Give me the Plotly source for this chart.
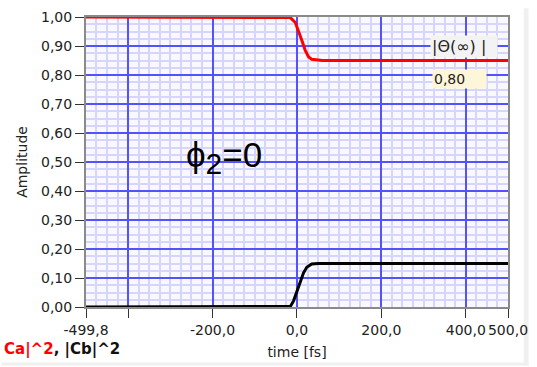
import plotly.graph_objects as go

# |Ca|^2 and |Cb|^2 populations vs time (fs)
t_ca = [-499.8, -20.0, -15.6, -3.9, 3.9, 11.7, 19.4, 27.3, 35.0, 46.7, 60.0, 500.0]
pop_ca = [1.0, 1.0, 0.998, 0.981, 0.953, 0.919, 0.886, 0.863, 0.854, 0.851, 0.85, 0.85]

t_cb = [-499.8, -18.0, -15.6, -7.8, 0.0, 7.8, 15.6, 23.3, 35.0, 50.5, 60.0, 500.0]
pop_cb = [0.0, 0.0, 0.002, 0.022, 0.056, 0.09, 0.118, 0.137, 0.148, 0.15, 0.15, 0.15]

x_tickvals = [-499.8, -400, -200, 0, 200, 400, 500]
x_ticktext = ["-499,8", " ", "-200,0", "0,0", "200,0", "400,0", "500,0"]
y_tickvals = [0.0, 0.1, 0.2, 0.3, 0.4, 0.5, 0.6, 0.7, 0.8, 0.9, 1.0]
y_ticktext = ["0,00", "0,10", "0,20", "0,30", "0,40", "0,50",
              "0,60", "0,70", "0,80", "0,90", "1,00"]

W, H = 537, 367
L, R, T, B = 86, 21, 9, 60
PW, PH = W - L - R, H - T - B


def px(x):
    return (x - L) / PW


def py(y):
    return (H - B - y) / PH


fig = go.Figure()
fig.add_trace(go.Scatter(x=t_ca, y=pop_ca, mode="lines",
                         line=dict(color="#ff0000", width=3), showlegend=False))
fig.add_trace(go.Scatter(x=t_cb, y=pop_cb, mode="lines",
                         line=dict(color="#000000", width=3), showlegend=False))

font = dict(family="DejaVu Sans", size=14, color="#222222")

fig.update_layout(
    width=W, height=H,
    margin=dict(l=L, r=R, t=T, b=B),
    paper_bgcolor="white",
    plot_bgcolor="#f8f8fe",
    font=font,
    xaxis=dict(
        range=[-499.8, 500], tickmode="array",
        tickvals=x_tickvals, ticktext=x_ticktext,
        showgrid=True, gridcolor="#5252ff", gridwidth=2,
        minor=dict(tickmode="linear", tick0=0, dtick=25, showgrid=True,
                   gridcolor="#d6d6fd", gridwidth=1.6),
        ticks="outside", ticklen=9, tickcolor="#333333", tickwidth=1,
        showline=True, linecolor="#8a8a8a", linewidth=2, mirror=True,
        zeroline=False,
        title=dict(text="time [fs]", standoff=10, font=font),
    ),
    yaxis=dict(
        range=[0, 1.0], tickmode="array",
        tickvals=y_tickvals, ticktext=y_ticktext,
        showgrid=True, gridcolor="#5252ff", gridwidth=2,
        minor=dict(tickmode="linear", tick0=0, dtick=0.025, showgrid=True,
                   gridcolor="#d6d6fd", gridwidth=1.6),
        ticks="outside", ticklen=9, tickcolor="#333333", tickwidth=1,
        showline=True, linecolor="#8a8a8a", linewidth=2, mirror=True,
        zeroline=False,
        title=dict(text="Amplitude", standoff=10, font=font),
    ),
)

# window edge strips
fig.add_shape(type="rect", xref="paper", yref="paper",
              x0=px(532), x1=px(537), y0=py(367), y1=py(0),
              fillcolor="#f0f0f0", line_width=0, layer="below")
fig.add_shape(type="rect", xref="paper", yref="paper",
              x0=px(0), x1=px(537), y0=py(367), y1=py(364),
              fillcolor="#f0f0f0", line_width=0, layer="below")

# phase label
fig.add_annotation(x=px(186), y=py(153), xref="paper", yref="paper",
                   xanchor="left", yanchor="middle", showarrow=False,
                   text="ϕ<sub><span style='font-size:30px'>2</span></sub>=0",
                   font=dict(family="Liberation Sans", size=35, color="#000000"))

# indicator label and value box
fig.add_annotation(x=px(437), y=py(27), xref="paper", yref="paper",
                   xanchor="left", yanchor="top", showarrow=False,
                   text="|Θ(∞) |", bgcolor="#f3f3f3", borderpad=1,
                   width=64, align="left",
                   font=dict(family="DejaVu Sans", size=16, color="#222222"))
fig.add_annotation(x=px(439), y=py(62), xref="paper", yref="paper",
                   xanchor="left", yanchor="top", showarrow=False,
                   text="0,80", bgcolor="#fdf6d8", borderpad=1,
                   width=51, align="left",
                   font=dict(family="DejaVu Sans", size=14, color="#222222"))

# curve legend
fig.add_annotation(x=px(0), y=py(351), xref="paper", yref="paper",
                   xanchor="left", yanchor="middle", showarrow=False,
                   text="<b><span style='color:#ff0000'>Ca|^2</span>, |Cb|^2</b>",
                   font=dict(family="DejaVu Sans", size=15, color="#111111"))

fig.write_html("out.html")
